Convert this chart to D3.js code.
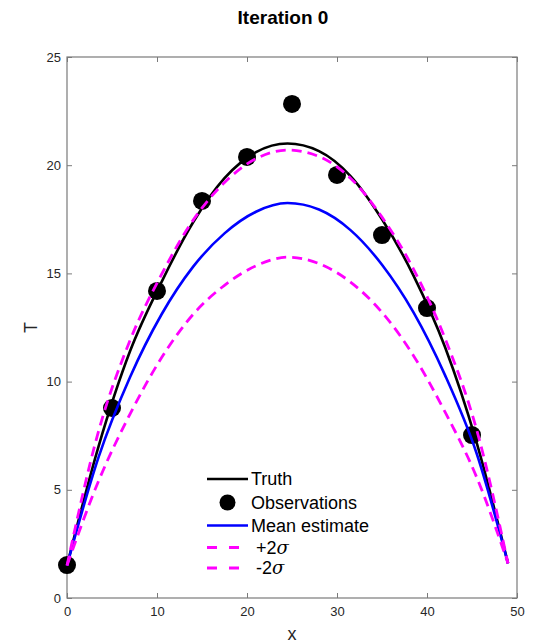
<!DOCTYPE html>
<html>
<head>
<meta charset="utf-8">
<script src="https://cdn.jsdelivr.net/npm/d3@7"></script>
<style>
  body { margin: 0; background: #fff; }
  svg { font-family: "Liberation Sans", Arial, Helvetica, sans-serif; }
</style>
</head>
<body>
<div id="chart"></div>
<script>
// values
var xGrid = [0, 3.5, 7, 10.5, 14, 17.5, 21, 24.5, 28, 31.5, 35, 38.5, 42, 45.5, 49];
var truth = [1.5, 7.0, 11.4, 14.6, 17.35, 19.4, 20.6, 21.0, 20.65, 19.5, 17.5, 14.9, 11.6, 7.2, 1.6];
var meanEst = [1.5, 6.5, 10.2, 13.1, 15.3, 16.85, 17.85, 18.25, 17.95, 17.0, 15.4, 13.2, 10.3, 6.7, 1.6];
var plus2s = [1.5, 7.7, 11.9, 14.95, 17.45, 19.2, 20.3, 20.7, 20.4, 19.4, 17.6, 15.2, 12.0, 7.8, 1.6];
var minus2s = [1.5, 5.4, 8.5, 11.1, 13.1, 14.45, 15.35, 15.75, 15.45, 14.6, 13.2, 11.2, 8.6, 5.6, 1.6];

var obsX = [0, 5, 10, 15, 20, 25, 30, 35, 40, 45];
var obsT = [1.52, 8.78, 14.19, 18.35, 20.38, 22.83, 19.55, 16.77, 13.4, 7.53];

var xTicks = [0, 10, 20, 30, 40, 50];
var yTicks = [0, 5, 10, 15, 20, 25];

var legendLabels = ["Truth", "Observations", "Mean estimate", "+2", "-2"];

var W = 541, H = 643;
var margin = { top: 57, right: 24, bottom: 45, left: 67 };

var svg = d3.select("#chart").append("svg")
  .attr("width", W).attr("height", H);

var x = d3.scaleLinear().domain([0, 50]).range([margin.left, W - margin.right]);
var y = d3.scaleLinear().domain([0, 25]).range([H - margin.bottom, margin.top]);

var axisColor = "#7a7a7a",
  textColor = "#262626";

// axes, ticks pointing inward like matlab
var gx = svg.append("g")
  .attr("transform", "translate(0," + y(0) + ")")
  .call(d3.axisBottom(x).tickValues(xTicks).tickSizeInner(-5).tickSizeOuter(0).tickPadding(9));
var gxTop = svg.append("g")
  .attr("transform", "translate(0," + y(25) + ")")
  .call(d3.axisTop(x).tickValues(xTicks).tickSizeInner(-5).tickSizeOuter(0).tickFormat(""));
var gy = svg.append("g")
  .attr("transform", "translate(" + x(0) + ",0)")
  .call(d3.axisLeft(y).tickValues(yTicks).tickSizeInner(-5).tickSizeOuter(0).tickPadding(6));
var gyRight = svg.append("g")
  .attr("transform", "translate(" + x(50) + ",0)")
  .call(d3.axisRight(y).tickValues(yTicks).tickSizeInner(-5).tickSizeOuter(0).tickFormat(""));

[gx, gxTop, gy, gyRight].forEach(function(g) {
  g.select(".domain").remove();
  g.selectAll(".tick line").attr("stroke", axisColor);
  g.selectAll(".tick text")
    .attr("fill", textColor)
    .style("font-size", "13px")
    .style("font-family", "'Liberation Sans', Arial, sans-serif");
});

svg.append("rect")
  .attr("x", x(0)).attr("y", y(25))
  .attr("width", x(50) - x(0)).attr("height", y(0) - y(25))
  .attr("fill", "none")
  .attr("stroke", axisColor)
  .attr("stroke-width", 1.2);

// observations go underneath the curves
svg.append("g").selectAll("circle")
  .data(obsX)
  .enter().append("circle")
  .attr("cx", function(d) { return x(d); })
  .attr("cy", function(d, i) { return y(obsT[i]); })
  .attr("r", 9)
  .attr("fill", "#000");

// curves
var line = d3.line()
  .curve(d3.curveMonotoneX)
  .x(function(d) { return x(d[0]); })
  .y(function(d) { return y(d[1]); });

function pairs(vals) {
  return xGrid.map(function(v, i) { return [v, vals[i]]; });
}

var series = [
  { vals: truth, color: "#000000", width: 2.6, dash: null },
  { vals: meanEst, color: "#0000ff", width: 2.6, dash: null },
  { vals: plus2s, color: "#ff00ff", width: 2.8, dash: "10,6" },
  { vals: minus2s, color: "#ff00ff", width: 2.8, dash: "10,6" }
];

svg.append("g").selectAll("path")
  .data(series)
  .enter().append("path")
  .attr("d", function(d) { return line(pairs(d.vals)); })
  .attr("fill", "none")
  .attr("stroke", function(d) { return d.color; })
  .attr("stroke-width", function(d) { return d.width; })
  .attr("stroke-dasharray", function(d) { return d.dash; });

// title and axis labels
svg.append("text")
  .attr("x", 283).attr("y", 24)
  .attr("text-anchor", "middle")
  .style("font-size", "19px")
  .style("font-weight", "bold")
  .text("Iteration 0");

svg.append("text")
  .attr("x", (x(0) + x(50)) / 2).attr("y", 640)
  .attr("text-anchor", "middle")
  .attr("fill", textColor)
  .style("font-size", "18px")
  .text("x");

svg.append("text")
  .attr("transform", "translate(37," + (y(0) + y(25)) / 2 + ") rotate(-90)")
  .attr("text-anchor", "middle")
  .attr("fill", textColor)
  .style("font-size", "18px")
  .text("T");

// legend (no box)
var legY = [479, 502.5, 525.5, 547.5, 568];
var leg = svg.append("g").attr("class", "legend");
var lx0 = 207, lx1 = 248, tx = 251;

leg.append("line").attr("x1", lx0).attr("x2", lx1).attr("y1", legY[0]).attr("y2", legY[0])
  .attr("stroke", "#000").attr("stroke-width", 2.6);
leg.append("circle").attr("cx", (lx0 + lx1) / 2).attr("cy", legY[1]).attr("r", 8).attr("fill", "#000");
leg.append("line").attr("x1", lx0).attr("x2", lx1).attr("y1", legY[2]).attr("y2", legY[2])
  .attr("stroke", "#0000ff").attr("stroke-width", 2.6);
[3, 4].forEach(function(i) {
  leg.append("line").attr("x1", lx0).attr("x2", lx0 + 33).attr("y1", legY[i]).attr("y2", legY[i])
    .attr("stroke", "#ff00ff").attr("stroke-width", 2.8).attr("stroke-dasharray", "10,12");
});

legendLabels.forEach(function(lab, i) {
  var t = leg.append("text")
    .attr("x", i >= 3 ? tx + 5 : tx)
    .attr("y", legY[i])
    .attr("dy", "0.35em")
    .style("font-size", "18px")
    .text(lab);
  if (i >= 3) {
    t.append("tspan").style("font-style", "italic").style("font-family", "'DejaVu Serif', serif").text("σ");
  }
});
</script>
</body>
</html>
